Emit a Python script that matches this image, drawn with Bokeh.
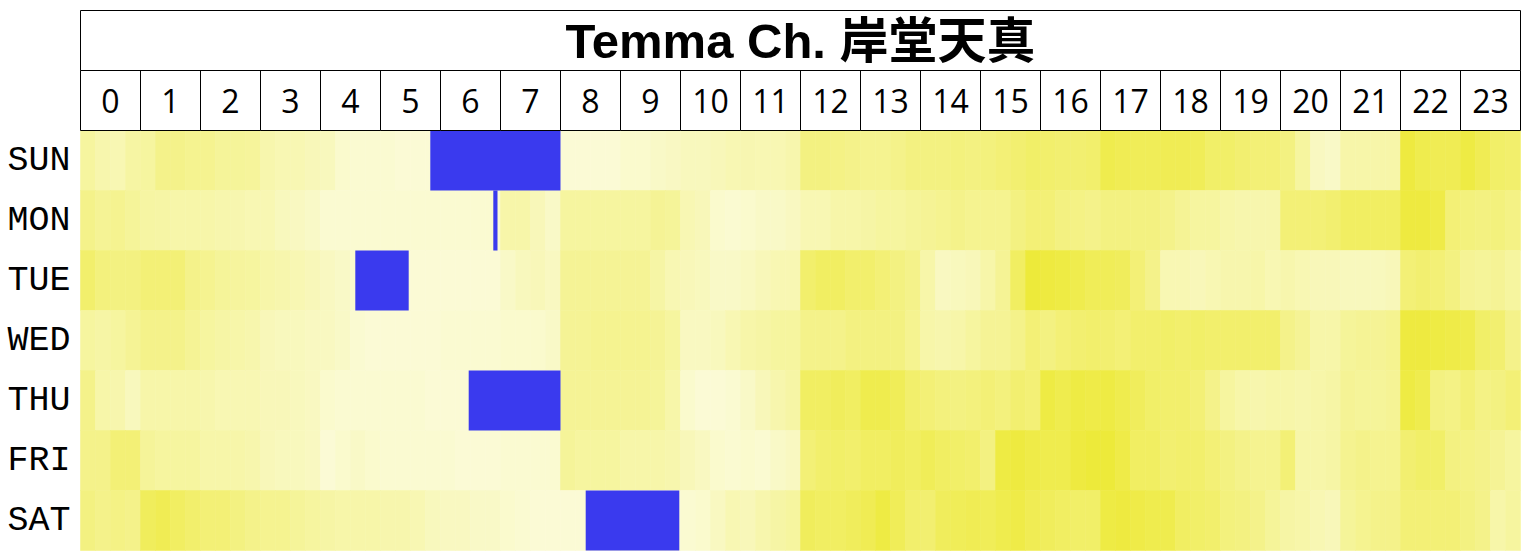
from bokeh.plotting import figure
from bokeh.models import Range1d, FixedTicker, ColumnDataSource
from bokeh.transform import linear_cmap
from bokeh.core.properties import value
from bokeh.embed import file_html
from bokeh.resources import INLINE

TITLE = "Temma Ch. 岸堂天真"
DAYS = ["SUN", "MON", "TUE", "WED", "THU", "FRI", "SAT"]
HOURS = [str(h) for h in range(24)]
SLOTS_PER_HOUR = 4  # 15-minute slots

# activity level per 15-minute slot (0 = quiet, 1 = busy)
SUN = [0.35, 0.28, 0.25, 0.33, 0.35, 0.45, 0.45, 0.42, 0.42, 0.38, 0.38, 0.37,
       0.28, 0.25, 0.25, 0.22, 0.20, 0.12, 0.10, 0.10, 0.10, 0.08, 0.08, 0.08,
       0.08, 0.08, 0.08, 0.08, 0.08, 0.08, 0.08, 0.08, 0.08, 0.08, 0.08, 0.08,
       0.12, 0.12, 0.15, 0.17, 0.20, 0.20, 0.22, 0.25, 0.26, 0.25, 0.25, 0.28,
       0.50, 0.50, 0.48, 0.45, 0.42, 0.42, 0.45, 0.50, 0.50, 0.50, 0.52, 0.50,
       0.52, 0.55, 0.58, 0.62, 0.60, 0.58, 0.58, 0.60, 0.75, 0.72, 0.70, 0.70,
       0.72, 0.72, 0.70, 0.62, 0.62, 0.58, 0.55, 0.55, 0.50, 0.35, 0.18, 0.15,
       0.30, 0.30, 0.30, 0.30, 0.82, 0.75, 0.72, 0.72, 0.80, 0.72, 0.62, 0.60]
MON = [0.45, 0.40, 0.42, 0.38, 0.33, 0.32, 0.30, 0.30, 0.30, 0.28, 0.27, 0.25,
       0.25, 0.20, 0.18, 0.15, 0.10, 0.10, 0.10, 0.10, 0.10, 0.10, 0.10, 0.10,
       0.10, 0.10, 0.10, 0.10, 0.30, 0.30, 0.22, 0.15, 0.35, 0.35, 0.35, 0.35,
       0.35, 0.35, 0.40, 0.38, 0.25, 0.22, 0.12, 0.10, 0.12, 0.15, 0.15, 0.18,
       0.25, 0.25, 0.30, 0.30, 0.32, 0.35, 0.35, 0.38, 0.40, 0.42, 0.45, 0.42,
       0.42, 0.42, 0.50, 0.55, 0.55, 0.50, 0.48, 0.45, 0.50, 0.50, 0.50, 0.50,
       0.45, 0.40, 0.35, 0.35, 0.30, 0.28, 0.28, 0.28, 0.55, 0.55, 0.55, 0.58,
       0.65, 0.65, 0.65, 0.65, 0.82, 0.82, 0.78, 0.55, 0.52, 0.50, 0.52, 0.48]
TUE = [0.60, 0.52, 0.50, 0.50, 0.55, 0.55, 0.55, 0.45, 0.42, 0.38, 0.36, 0.35,
       0.30, 0.28, 0.25, 0.22, 0.18, 0.15, 0.12, 0.12, 0.10, 0.08, 0.08, 0.08,
       0.08, 0.08, 0.08, 0.08, 0.15, 0.20, 0.22, 0.18, 0.40, 0.40, 0.40, 0.40,
       0.40, 0.40, 0.32, 0.25, 0.22, 0.20, 0.15, 0.15, 0.18, 0.22, 0.25, 0.25,
       0.60, 0.65, 0.65, 0.60, 0.60, 0.55, 0.50, 0.45, 0.30, 0.18, 0.20, 0.22,
       0.30, 0.40, 0.65, 0.85, 0.82, 0.80, 0.75, 0.70, 0.70, 0.68, 0.55, 0.45,
       0.25, 0.25, 0.22, 0.25, 0.28, 0.28, 0.30, 0.25, 0.28, 0.25, 0.22, 0.22,
       0.20, 0.20, 0.20, 0.22, 0.55, 0.58, 0.55, 0.50, 0.40, 0.38, 0.40, 0.35]
WED = [0.35, 0.32, 0.35, 0.40, 0.45, 0.45, 0.45, 0.40, 0.35, 0.32, 0.30, 0.28,
       0.22, 0.20, 0.20, 0.18, 0.18, 0.15, 0.10, 0.08, 0.08, 0.08, 0.08, 0.08,
       0.10, 0.10, 0.10, 0.10, 0.12, 0.12, 0.12, 0.15, 0.40, 0.40, 0.42, 0.42,
       0.42, 0.42, 0.40, 0.35, 0.18, 0.18, 0.20, 0.25, 0.30, 0.32, 0.35, 0.35,
       0.45, 0.45, 0.45, 0.50, 0.50, 0.50, 0.50, 0.42, 0.30, 0.28, 0.30, 0.35,
       0.40, 0.40, 0.45, 0.55, 0.50, 0.55, 0.58, 0.60, 0.58, 0.55, 0.60, 0.60,
       0.62, 0.60, 0.62, 0.60, 0.60, 0.60, 0.60, 0.60, 0.45, 0.40, 0.30, 0.30,
       0.38, 0.40, 0.40, 0.42, 0.82, 0.82, 0.80, 0.78, 0.75, 0.62, 0.58, 0.45]
THU = [0.45, 0.30, 0.28, 0.20, 0.30, 0.30, 0.30, 0.30, 0.28, 0.25, 0.25, 0.25,
       0.22, 0.22, 0.20, 0.18, 0.12, 0.10, 0.10, 0.10, 0.10, 0.10, 0.10, 0.08,
       0.08, 0.08, 0.08, 0.08, 0.08, 0.08, 0.08, 0.08, 0.40, 0.40, 0.40, 0.40,
       0.40, 0.40, 0.38, 0.30, 0.12, 0.08, 0.08, 0.10, 0.15, 0.22, 0.28, 0.32,
       0.65, 0.65, 0.68, 0.65, 0.75, 0.75, 0.70, 0.60, 0.55, 0.52, 0.50, 0.52,
       0.55, 0.52, 0.58, 0.55, 0.80, 0.75, 0.80, 0.78, 0.80, 0.75, 0.68, 0.62,
       0.60, 0.60, 0.55, 0.45, 0.35, 0.30, 0.28, 0.30, 0.30, 0.28, 0.30, 0.32,
       0.40, 0.38, 0.38, 0.40, 0.80, 0.75, 0.50, 0.48, 0.55, 0.48, 0.50, 0.55]
FRI = [0.45, 0.45, 0.55, 0.55, 0.38, 0.35, 0.35, 0.35, 0.30, 0.30, 0.30, 0.28,
       0.22, 0.20, 0.20, 0.18, 0.08, 0.12, 0.15, 0.12, 0.10, 0.10, 0.10, 0.10,
       0.10, 0.08, 0.08, 0.08, 0.10, 0.10, 0.10, 0.10, 0.38, 0.35, 0.35, 0.35,
       0.30, 0.30, 0.30, 0.28, 0.22, 0.18, 0.12, 0.10, 0.12, 0.10, 0.15, 0.18,
       0.55, 0.60, 0.62, 0.60, 0.65, 0.65, 0.68, 0.65, 0.70, 0.65, 0.62, 0.60,
       0.50, 0.80, 0.82, 0.78, 0.75, 0.75, 0.82, 0.85, 0.85, 0.78, 0.65, 0.65,
       0.58, 0.60, 0.60, 0.55, 0.50, 0.45, 0.42, 0.42, 0.55, 0.30, 0.30, 0.32,
       0.42, 0.45, 0.42, 0.42, 0.58, 0.62, 0.62, 0.50, 0.48, 0.45, 0.40, 0.35]
SAT = [0.50, 0.45, 0.48, 0.45, 0.68, 0.72, 0.65, 0.60, 0.55, 0.55, 0.50, 0.45,
       0.42, 0.42, 0.38, 0.35, 0.32, 0.30, 0.30, 0.30, 0.28, 0.28, 0.25, 0.20,
       0.18, 0.18, 0.15, 0.15, 0.12, 0.10, 0.08, 0.08, 0.08, 0.08, 0.08, 0.08,
       0.08, 0.08, 0.08, 0.08, 0.10, 0.12, 0.18, 0.25, 0.22, 0.28, 0.32, 0.35,
       0.68, 0.65, 0.65, 0.68, 0.72, 0.80, 0.70, 0.60, 0.58, 0.68, 0.70, 0.72,
       0.70, 0.75, 0.78, 0.72, 0.68, 0.65, 0.62, 0.62, 0.80, 0.82, 0.78, 0.75,
       0.75, 0.65, 0.62, 0.60, 0.52, 0.50, 0.45, 0.38, 0.32, 0.30, 0.25, 0.22,
       0.38, 0.42, 0.45, 0.45, 0.55, 0.55, 0.55, 0.55, 0.50, 0.45, 0.30, 0.35]
ROWS = [SUN, MON, TUE, WED, THU, FRI, SAT]

# live streams (day, start hour, end hour)
STREAM_DAY = ["SUN", "MON", "TUE", "THU", "SAT"]
STREAM_START = [5.83, 6.88, 4.58, 6.47, 8.42]
STREAM_END = [8.00, 6.95, 5.47, 8.00, 9.98]

LIGHT = (251, 251, 219)
DARK = (237, 233, 52)
palette = []
for k in range(256):
    t = k / 255
    c = tuple(round(LIGHT[j] + (DARK[j] - LIGHT[j]) * t) for j in range(3))
    palette.append("#%02x%02x%02x" % c)

n_days = len(DAYS)
row_of = {d: n_days - 1 - i for i, d in enumerate(DAYS)}

cells = dict(left=[], right=[], bottom=[], top=[], v=[])
for d, vals in zip(DAYS, ROWS):
    r = row_of[d]
    for i, v in enumerate(vals):
        cells["left"].append(i / SLOTS_PER_HOUR)
        cells["right"].append((i + 1) / SLOTS_PER_HOUR)
        cells["bottom"].append(r)
        cells["top"].append(r + 1)
        cells["v"].append(v)

pad = 1 / 60
p = figure(width=1530, height=560, output_backend="svg", toolbar_location=None,
           x_range=Range1d(-pad, 24 + pad), y_range=Range1d(-pad, n_days + 2 + pad),
           x_axis_location=None, min_border_left=79, min_border_right=9,
           min_border_top=9, min_border_bottom=9)
p.outline_line_color = None
p.grid.visible = False
p.background_fill_color = "white"
p.border_fill_color = "white"

cmap = linear_cmap("v", palette, 0.05, 0.88)
p.quad(left="left", right="right", bottom="bottom", top="top",
       source=ColumnDataSource(cells), fill_color=cmap, line_color=cmap, line_width=0.6)

p.quad(left=STREAM_START, right=STREAM_END,
       bottom=[row_of[d] for d in STREAM_DAY], top=[row_of[d] + 1 for d in STREAM_DAY],
       fill_color="#3a3aee", line_color=None)

hrs = list(range(24))
p.quad(left=hrs, right=[h + 1 for h in hrs], bottom=n_days, top=n_days + 1,
       fill_color="white", line_color="black", line_width=1)
p.quad(left=[0], right=[24], bottom=n_days + 1, top=n_days + 2,
       fill_color="white", line_color="black", line_width=1)

p.text(x=[h + 0.5 for h in hrs], y=n_days + 0.5, text=HOURS,
       text_align="center", text_baseline="middle",
       text_font=value("Open Sans"), text_font_size="32px", text_color="black")
p.text(x=[12], y=[n_days + 1.5], text=[TITLE], text_align="center", text_baseline="middle",
       text_font=value("Liberation Sans, Noto Sans CJK JP"), text_font_style="bold",
       text_font_size="49px", text_color="black")

ax = p.yaxis[0]
ax.ticker = FixedTicker(ticks=[row_of[d] + 0.5 for d in DAYS])
ax.major_label_overrides = {row_of[d] + 0.5: d for d in DAYS}
ax.axis_line_color = None
ax.major_tick_line_color = None
ax.minor_tick_line_color = None
ax.major_label_text_font = "Liberation Mono"
ax.major_label_text_font_size = "35px"
ax.major_label_text_color = "black"
ax.major_label_standoff = 3

open("out.html", "w").write(file_html(p, INLINE))
